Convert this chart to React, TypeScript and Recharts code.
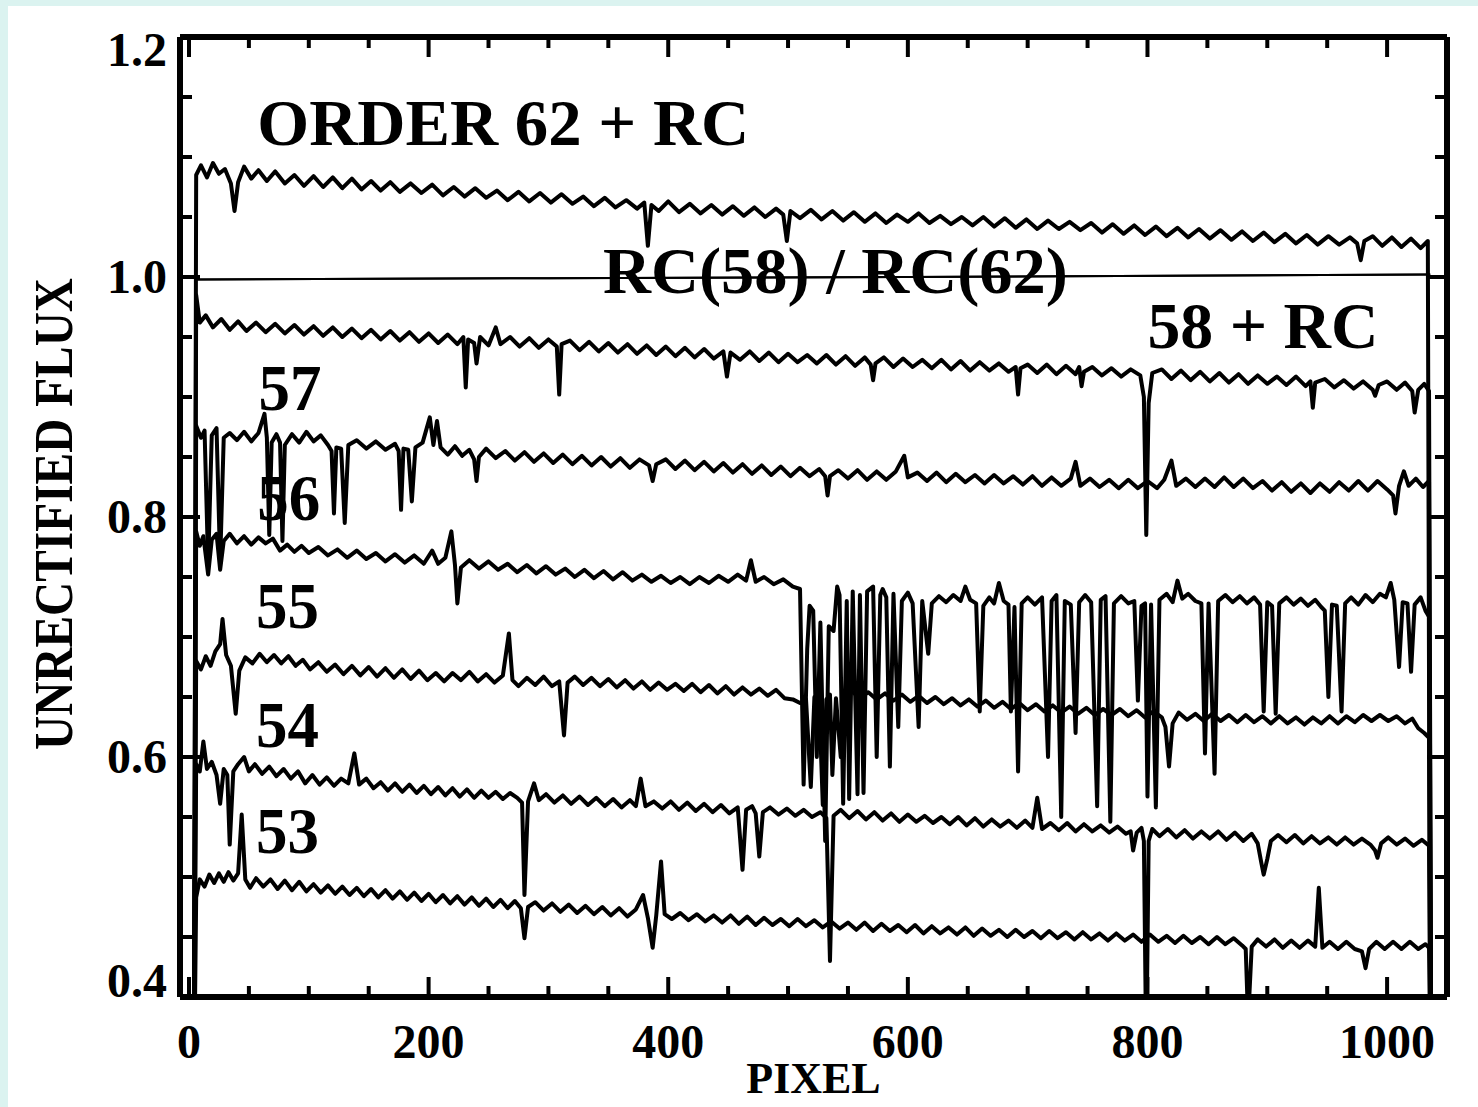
import { LineChart, Line, XAxis, YAxis, ReferenceDot } from 'recharts';

// each series: [pixel, flux] pairs
const order62 = [
  [4, 0.3], [6, 1.085], [10, 1.093], [15, 1.083], [20, 1.095], [25, 1.086], [30, 1.090], [35, 1.078], [38, 1.055], [41, 1.079],
  [46, 1.092], [52, 1.082], [58, 1.089], [65, 1.080], [72, 1.088], [80, 1.078], [88, 1.085], [96, 1.076], [104, 1.084], [112, 1.075],
  [120, 1.083], [128, 1.074], [136, 1.082], [144, 1.073], [152, 1.080], [160, 1.072], [168, 1.079], [176, 1.071], [185, 1.078], [194, 1.070],
  [203, 1.077], [212, 1.068], [221, 1.075], [230, 1.067], [239, 1.074], [248, 1.066], [257, 1.072], [266, 1.064], [275, 1.071], [284, 1.063],
  [293, 1.070], [302, 1.062], [311, 1.069], [320, 1.061], [329, 1.067], [338, 1.059], [347, 1.066], [356, 1.058], [365, 1.064], [374, 1.057],
  [380, 1.062], [383, 1.026], [386, 1.060], [392, 1.055], [400, 1.063], [409, 1.054], [418, 1.061], [427, 1.053], [436, 1.060], [445, 1.052],
  [454, 1.059], [463, 1.051], [472, 1.058], [481, 1.050], [490, 1.057], [496, 1.052], [499, 1.030], [502, 1.055], [510, 1.049], [519, 1.056],
  [528, 1.048], [537, 1.055], [546, 1.047], [555, 1.054], [564, 1.046], [573, 1.053], [582, 1.045], [591, 1.052], [600, 1.046], [609, 1.053],
  [618, 1.045], [627, 1.051], [636, 1.044], [645, 1.050], [654, 1.043], [663, 1.050], [672, 1.042], [681, 1.049], [690, 1.041], [699, 1.048],
  [708, 1.040], [717, 1.047], [726, 1.040], [735, 1.046], [744, 1.039], [753, 1.045], [762, 1.037], [771, 1.044], [780, 1.036], [789, 1.043],
  [798, 1.035], [807, 1.042], [816, 1.034], [825, 1.041], [834, 1.033], [843, 1.040], [852, 1.032], [861, 1.039], [870, 1.031], [879, 1.038],
  [888, 1.030], [897, 1.037], [906, 1.029], [915, 1.036], [924, 1.028], [933, 1.035], [942, 1.027], [951, 1.034], [960, 1.027], [969, 1.033],
  [975, 1.028], [978, 1.014], [981, 1.030], [988, 1.034], [996, 1.026], [1004, 1.033], [1012, 1.025], [1020, 1.032], [1028, 1.024], [1034, 1.030],
  [1036, 0.3],
];

const rcRatio = [[6, 0.998], [300, 0.999], [600, 1.0], [1036, 1.002]];

const order58 = [
  [4, 0.3], [6, 0.985], [9, 0.962], [14, 0.968], [20, 0.958], [27, 0.965], [34, 0.956], [41, 0.963], [48, 0.955], [56, 0.962],
  [64, 0.954], [72, 0.961], [80, 0.953], [88, 0.960], [96, 0.952], [104, 0.959], [112, 0.951], [120, 0.958], [128, 0.950], [136, 0.957],
  [144, 0.949], [152, 0.956], [160, 0.948], [168, 0.955], [176, 0.947], [184, 0.954], [192, 0.946], [200, 0.953], [208, 0.945], [216, 0.952],
  [224, 0.944], [229, 0.950], [231, 0.908], [233, 0.948], [238, 0.945], [240, 0.928], [243, 0.950], [250, 0.943], [256, 0.958], [260, 0.944],
  [268, 0.950], [276, 0.942], [284, 0.949], [292, 0.941], [300, 0.948], [307, 0.942], [309, 0.902], [311, 0.944], [318, 0.947], [326, 0.939],
  [334, 0.946], [342, 0.938], [350, 0.945], [358, 0.937], [366, 0.944], [374, 0.936], [382, 0.943], [390, 0.935], [398, 0.942], [406, 0.934],
  [414, 0.941], [422, 0.933], [430, 0.940], [438, 0.932], [446, 0.938], [449, 0.917], [452, 0.937], [460, 0.931], [468, 0.938], [476, 0.930],
  [484, 0.937], [492, 0.929], [500, 0.936], [508, 0.929], [516, 0.935], [524, 0.928], [532, 0.935], [540, 0.927], [548, 0.934], [556, 0.926],
  [564, 0.933], [569, 0.927], [571, 0.914], [573, 0.928], [580, 0.933], [588, 0.925], [596, 0.932], [604, 0.925], [612, 0.931], [620, 0.924],
  [628, 0.931], [636, 0.923], [644, 0.930], [652, 0.922], [660, 0.929], [668, 0.922], [676, 0.928], [684, 0.921], [690, 0.925], [692, 0.902],
  [694, 0.924], [700, 0.927], [708, 0.920], [716, 0.927], [724, 0.919], [732, 0.926], [740, 0.919], [743, 0.925], [745, 0.909], [747, 0.921],
  [754, 0.925], [762, 0.918], [770, 0.924], [778, 0.917], [786, 0.923], [794, 0.918], [797, 0.900], [799, 0.785], [801, 0.895], [804, 0.920],
  [812, 0.923], [820, 0.915], [828, 0.922], [836, 0.914], [844, 0.921], [852, 0.913], [860, 0.920], [868, 0.912], [876, 0.919], [884, 0.911],
  [892, 0.918], [900, 0.911], [908, 0.917], [916, 0.910], [924, 0.917], [932, 0.909], [936, 0.913], [938, 0.891], [940, 0.912], [948, 0.915],
  [956, 0.908], [964, 0.914], [972, 0.907], [980, 0.913], [988, 0.906], [990, 0.901], [993, 0.910], [1000, 0.913], [1008, 0.906], [1015, 0.912],
  [1021, 0.905], [1023, 0.887], [1026, 0.906], [1031, 0.911], [1035, 0.905], [1037, 0.3],
];

const order57 = [
  [4, 0.3], [6, 0.876], [10, 0.866], [13, 0.872], [16, 0.760], [19, 0.868], [23, 0.874], [26, 0.762], [29, 0.866], [34, 0.870],
  [40, 0.864], [46, 0.871], [52, 0.863], [58, 0.870], [63, 0.886], [65, 0.866], [67, 0.785], [69, 0.862], [73, 0.869], [76, 0.862],
  [78, 0.780], [80, 0.860], [86, 0.869], [92, 0.862], [98, 0.871], [104, 0.863], [110, 0.868], [116, 0.860], [119, 0.855], [121, 0.803],
  [123, 0.858], [127, 0.857], [130, 0.795], [133, 0.860], [140, 0.864], [148, 0.857], [156, 0.863], [164, 0.856], [172, 0.861], [175, 0.855],
  [177, 0.806], [179, 0.857], [183, 0.856], [186, 0.813], [189, 0.858], [195, 0.862], [201, 0.883], [204, 0.860], [207, 0.880], [210, 0.858],
  [216, 0.852], [222, 0.859], [228, 0.851], [234, 0.856], [238, 0.848], [240, 0.830], [242, 0.850], [248, 0.857], [256, 0.849], [264, 0.855],
  [272, 0.847], [280, 0.854], [288, 0.846], [296, 0.853], [304, 0.845], [312, 0.852], [320, 0.844], [328, 0.851], [336, 0.843], [344, 0.850],
  [352, 0.842], [360, 0.849], [368, 0.841], [376, 0.848], [384, 0.843], [387, 0.830], [390, 0.844], [398, 0.848], [406, 0.840], [414, 0.847],
  [422, 0.839], [430, 0.846], [438, 0.838], [446, 0.845], [454, 0.837], [462, 0.844], [470, 0.836], [478, 0.843], [486, 0.835], [494, 0.842],
  [502, 0.834], [510, 0.841], [518, 0.834], [526, 0.840], [531, 0.834], [533, 0.818], [535, 0.834], [542, 0.839], [550, 0.832], [558, 0.839],
  [566, 0.831], [574, 0.838], [582, 0.831], [590, 0.838], [597, 0.851], [600, 0.833], [608, 0.837], [616, 0.830], [624, 0.837], [632, 0.829],
  [640, 0.836], [648, 0.829], [656, 0.835], [664, 0.828], [672, 0.835], [680, 0.828], [688, 0.834], [696, 0.827], [704, 0.834], [712, 0.826],
  [720, 0.833], [728, 0.826], [736, 0.832], [740, 0.846], [744, 0.826], [752, 0.832], [760, 0.825], [768, 0.831], [776, 0.824], [784, 0.831],
  [792, 0.824], [800, 0.830], [808, 0.824], [814, 0.831], [820, 0.847], [824, 0.826], [832, 0.832], [840, 0.825], [848, 0.832], [856, 0.825],
  [864, 0.833], [872, 0.825], [880, 0.832], [888, 0.824], [896, 0.830], [904, 0.822], [912, 0.829], [920, 0.821], [928, 0.828], [936, 0.820],
  [944, 0.828], [952, 0.821], [960, 0.829], [968, 0.822], [976, 0.830], [984, 0.822], [992, 0.830], [1000, 0.823], [1005, 0.818], [1007, 0.803],
  [1010, 0.826], [1014, 0.838], [1018, 0.826], [1024, 0.832], [1030, 0.825], [1035, 0.830], [1037, 0.3],
];

const order56 = [
  [4, 0.3], [6, 0.788], [9, 0.776], [12, 0.784], [16, 0.752], [19, 0.781], [23, 0.786], [26, 0.756], [29, 0.780], [34, 0.786],
  [40, 0.778], [46, 0.784], [52, 0.777], [58, 0.783], [64, 0.778], [70, 0.782], [76, 0.772], [82, 0.777], [88, 0.771], [94, 0.776],
  [100, 0.770], [108, 0.775], [116, 0.768], [124, 0.773], [132, 0.766], [140, 0.772], [148, 0.765], [156, 0.770], [164, 0.763], [172, 0.769],
  [180, 0.762], [188, 0.768], [196, 0.761], [203, 0.772], [208, 0.761], [214, 0.766], [219, 0.788], [222, 0.760], [224, 0.728], [227, 0.758],
  [234, 0.764], [242, 0.757], [250, 0.763], [258, 0.756], [266, 0.761], [274, 0.754], [282, 0.760], [290, 0.753], [298, 0.759], [306, 0.752],
  [314, 0.757], [322, 0.750], [330, 0.756], [338, 0.749], [346, 0.755], [354, 0.748], [362, 0.754], [370, 0.747], [378, 0.752], [386, 0.746],
  [394, 0.751], [402, 0.745], [410, 0.750], [418, 0.744], [426, 0.750], [434, 0.745], [442, 0.751], [450, 0.746], [458, 0.752], [465, 0.747],
  [469, 0.764], [473, 0.746], [480, 0.750], [488, 0.744], [496, 0.748], [504, 0.742], [510, 0.740], [513, 0.577], [516, 0.690], [518, 0.726],
  [521, 0.722], [524, 0.600], [527, 0.712], [531, 0.530], [534, 0.709], [538, 0.705], [541, 0.742], [543, 0.735], [546, 0.561], [549, 0.730],
  [551, 0.565], [554, 0.738], [558, 0.569], [560, 0.735], [563, 0.570], [566, 0.738], [571, 0.742], [574, 0.600], [577, 0.735], [579, 0.740],
  [582, 0.733], [585, 0.592], [588, 0.736], [592, 0.625], [595, 0.730], [600, 0.737], [604, 0.728], [609, 0.625], [612, 0.730], [617, 0.686],
  [620, 0.728], [626, 0.734], [632, 0.729], [638, 0.735], [644, 0.730], [648, 0.742], [652, 0.731], [657, 0.728], [660, 0.638], [663, 0.726],
  [668, 0.733], [672, 0.728], [676, 0.745], [680, 0.730], [684, 0.727], [686, 0.638], [689, 0.725], [692, 0.588], [695, 0.728], [700, 0.733],
  [706, 0.727], [712, 0.733], [717, 0.600], [720, 0.730], [724, 0.735], [728, 0.550], [731, 0.730], [736, 0.727], [740, 0.620], [743, 0.729],
  [748, 0.735], [753, 0.729], [758, 0.559], [761, 0.731], [765, 0.734], [769, 0.546], [772, 0.728], [778, 0.734], [784, 0.728], [789, 0.730],
  [792, 0.647], [795, 0.726], [798, 0.728], [800, 0.567], [803, 0.727], [807, 0.558], [810, 0.731], [816, 0.736], [821, 0.729], [825, 0.747],
  [829, 0.732], [834, 0.736], [840, 0.730], [845, 0.728], [848, 0.603], [851, 0.728], [856, 0.586], [859, 0.730], [865, 0.735], [871, 0.729],
  [877, 0.734], [883, 0.728], [889, 0.733], [894, 0.727], [897, 0.638], [900, 0.729], [904, 0.726], [907, 0.636], [910, 0.728], [916, 0.733],
  [922, 0.727], [928, 0.732], [934, 0.726], [940, 0.731], [945, 0.725], [948, 0.722], [951, 0.650], [954, 0.727], [958, 0.726], [962, 0.638],
  [965, 0.728], [970, 0.733], [976, 0.727], [982, 0.735], [988, 0.729], [994, 0.736], [999, 0.733], [1003, 0.745], [1006, 0.731], [1010, 0.675],
  [1013, 0.729], [1017, 0.728], [1020, 0.671], [1023, 0.727], [1028, 0.733], [1032, 0.722], [1035, 0.717], [1037, 0.3],
];

const order55 = [
  [4, 0.3], [6, 0.680], [10, 0.673], [14, 0.684], [18, 0.676], [22, 0.688], [26, 0.694], [28, 0.715], [31, 0.685], [35, 0.676],
  [39, 0.636], [42, 0.672], [47, 0.683], [53, 0.678], [59, 0.686], [65, 0.679], [71, 0.685], [77, 0.678], [83, 0.684], [89, 0.676],
  [95, 0.681], [101, 0.673], [108, 0.679], [115, 0.671], [122, 0.677], [129, 0.669], [136, 0.676], [143, 0.668], [150, 0.675], [157, 0.667],
  [164, 0.674], [171, 0.666], [178, 0.673], [185, 0.665], [192, 0.672], [199, 0.664], [206, 0.670], [213, 0.663], [220, 0.670], [227, 0.664],
  [234, 0.671], [241, 0.663], [248, 0.669], [255, 0.662], [262, 0.668], [267, 0.703], [270, 0.664], [275, 0.659], [282, 0.666], [289, 0.660],
  [296, 0.667], [303, 0.659], [309, 0.663], [313, 0.618], [316, 0.662], [322, 0.667], [329, 0.660], [336, 0.666], [343, 0.659], [350, 0.665],
  [357, 0.658], [364, 0.664], [371, 0.657], [378, 0.663], [385, 0.656], [392, 0.662], [399, 0.656], [406, 0.661], [413, 0.655], [420, 0.661],
  [427, 0.654], [434, 0.660], [441, 0.653], [448, 0.659], [455, 0.652], [462, 0.658], [469, 0.652], [476, 0.657], [483, 0.651], [490, 0.656],
  [497, 0.649], [504, 0.648], [510, 0.645], [515, 0.648], [519, 0.575], [522, 0.650], [526, 0.647], [529, 0.560], [532, 0.648], [535, 0.652],
  [537, 0.585], [540, 0.649], [544, 0.600], [547, 0.650], [553, 0.655], [560, 0.649], [567, 0.654], [574, 0.648], [581, 0.653], [588, 0.647],
  [595, 0.652], [602, 0.646], [609, 0.651], [616, 0.645], [623, 0.650], [630, 0.644], [637, 0.649], [644, 0.643], [651, 0.648], [658, 0.642],
  [665, 0.647], [672, 0.641], [679, 0.646], [686, 0.640], [693, 0.645], [700, 0.639], [707, 0.644], [714, 0.638], [721, 0.643], [728, 0.637],
  [735, 0.642], [742, 0.636], [749, 0.641], [756, 0.635], [763, 0.640], [770, 0.635], [777, 0.640], [784, 0.634], [791, 0.639], [798, 0.633],
  [805, 0.638], [812, 0.633], [815, 0.625], [818, 0.592], [821, 0.628], [826, 0.637], [833, 0.631], [840, 0.636], [847, 0.630], [854, 0.636],
  [861, 0.630], [868, 0.635], [875, 0.629], [882, 0.635], [889, 0.629], [896, 0.634], [903, 0.628], [910, 0.634], [917, 0.628], [924, 0.633],
  [931, 0.627], [938, 0.633], [945, 0.628], [952, 0.634], [959, 0.628], [966, 0.634], [973, 0.629], [980, 0.635], [987, 0.630], [994, 0.635],
  [1001, 0.630], [1008, 0.634], [1015, 0.628], [1021, 0.632], [1026, 0.624], [1031, 0.620], [1035, 0.616], [1037, 0.3],
];

const order54 = [
  [4, 0.3], [6, 0.594], [9, 0.588], [12, 0.613], [15, 0.590], [19, 0.596], [23, 0.585], [26, 0.561], [29, 0.590], [32, 0.585],
  [34, 0.527], [37, 0.588], [41, 0.594], [46, 0.600], [50, 0.588], [55, 0.594], [61, 0.586], [67, 0.592], [73, 0.584], [79, 0.590],
  [85, 0.582], [91, 0.588], [97, 0.578], [103, 0.585], [109, 0.577], [115, 0.583], [121, 0.576], [127, 0.582], [133, 0.578], [138, 0.603],
  [142, 0.577], [148, 0.582], [154, 0.574], [160, 0.579], [166, 0.572], [172, 0.578], [178, 0.571], [184, 0.577], [190, 0.570], [196, 0.576],
  [202, 0.569], [208, 0.575], [214, 0.568], [220, 0.574], [226, 0.567], [232, 0.573], [238, 0.566], [244, 0.572], [250, 0.566], [256, 0.571],
  [262, 0.565], [268, 0.570], [274, 0.566], [278, 0.562], [280, 0.485], [283, 0.563], [288, 0.578], [292, 0.564], [298, 0.569], [305, 0.562],
  [312, 0.568], [319, 0.561], [326, 0.567], [333, 0.560], [340, 0.566], [347, 0.559], [354, 0.565], [361, 0.558], [368, 0.564], [373, 0.559],
  [377, 0.582], [381, 0.559], [388, 0.563], [395, 0.557], [402, 0.563], [409, 0.556], [416, 0.562], [423, 0.555], [430, 0.561], [437, 0.554],
  [444, 0.560], [451, 0.553], [458, 0.558], [462, 0.506], [465, 0.556], [470, 0.559], [473, 0.553], [476, 0.517], [479, 0.554], [485, 0.558],
  [492, 0.552], [499, 0.557], [506, 0.551], [513, 0.556], [520, 0.550], [527, 0.554], [532, 0.549], [535, 0.430], [538, 0.551], [544, 0.556],
  [551, 0.549], [558, 0.555], [565, 0.548], [572, 0.554], [579, 0.547], [586, 0.553], [593, 0.546], [600, 0.552], [607, 0.546], [614, 0.551],
  [621, 0.545], [628, 0.550], [635, 0.544], [642, 0.550], [649, 0.543], [656, 0.549], [663, 0.542], [670, 0.548], [677, 0.542], [684, 0.547],
  [691, 0.541], [698, 0.547], [704, 0.541], [708, 0.566], [712, 0.540], [719, 0.545], [726, 0.539], [733, 0.545], [740, 0.538], [747, 0.544],
  [754, 0.538], [761, 0.543], [768, 0.537], [775, 0.542], [782, 0.536], [786, 0.538], [788, 0.522], [791, 0.537], [795, 0.541], [797, 0.530],
  [799, 0.350], [801, 0.530], [804, 0.540], [810, 0.534], [817, 0.540], [824, 0.533], [831, 0.539], [838, 0.532], [845, 0.538], [852, 0.532],
  [859, 0.538], [866, 0.531], [873, 0.537], [880, 0.530], [887, 0.536], [892, 0.528], [895, 0.512], [897, 0.502], [900, 0.515], [903, 0.530],
  [909, 0.535], [916, 0.529], [923, 0.535], [930, 0.528], [937, 0.534], [944, 0.528], [951, 0.533], [958, 0.527], [965, 0.533], [972, 0.527],
  [979, 0.532], [986, 0.527], [990, 0.522], [992, 0.516], [995, 0.528], [1001, 0.533], [1008, 0.527], [1015, 0.532], [1022, 0.526], [1029, 0.531],
  [1035, 0.526], [1037, 0.3],
];

const order53 = [
  [4, 0.3], [6, 0.483], [9, 0.498], [13, 0.492], [17, 0.502], [21, 0.495], [25, 0.503], [29, 0.496], [33, 0.504], [37, 0.497],
  [41, 0.503], [44, 0.552], [47, 0.498], [51, 0.491], [56, 0.499], [62, 0.492], [68, 0.498], [74, 0.490], [80, 0.497], [86, 0.489],
  [92, 0.496], [98, 0.488], [104, 0.494], [110, 0.487], [116, 0.493], [122, 0.486], [128, 0.492], [134, 0.485], [140, 0.491], [146, 0.484],
  [152, 0.490], [158, 0.483], [164, 0.489], [170, 0.482], [176, 0.488], [182, 0.481], [188, 0.487], [194, 0.480], [200, 0.486], [206, 0.479],
  [212, 0.485], [218, 0.478], [224, 0.484], [230, 0.477], [236, 0.483], [242, 0.476], [248, 0.482], [254, 0.475], [260, 0.481], [266, 0.474],
  [272, 0.480], [277, 0.474], [280, 0.449], [283, 0.475], [289, 0.479], [296, 0.472], [303, 0.478], [310, 0.471], [317, 0.477], [324, 0.470],
  [331, 0.476], [338, 0.469], [345, 0.475], [352, 0.468], [359, 0.474], [366, 0.467], [373, 0.473], [379, 0.485], [383, 0.466], [387, 0.441],
  [390, 0.468], [394, 0.513], [397, 0.469], [403, 0.465], [410, 0.470], [417, 0.464], [424, 0.469], [431, 0.463], [438, 0.468], [445, 0.462],
  [452, 0.468], [459, 0.461], [466, 0.467], [473, 0.460], [480, 0.466], [487, 0.460], [494, 0.465], [501, 0.459], [508, 0.465], [515, 0.459],
  [522, 0.464], [529, 0.458], [536, 0.463], [543, 0.457], [550, 0.462], [557, 0.456], [564, 0.462], [571, 0.455], [578, 0.461], [585, 0.455],
  [592, 0.460], [599, 0.454], [606, 0.460], [613, 0.453], [620, 0.459], [627, 0.453], [634, 0.458], [641, 0.452], [648, 0.458], [655, 0.451],
  [662, 0.457], [669, 0.451], [676, 0.456], [683, 0.450], [690, 0.456], [697, 0.450], [704, 0.455], [711, 0.449], [718, 0.455], [725, 0.449],
  [732, 0.454], [739, 0.448], [746, 0.454], [753, 0.448], [760, 0.453], [767, 0.447], [774, 0.453], [781, 0.447], [788, 0.452], [795, 0.446],
  [802, 0.452], [809, 0.446], [816, 0.451], [823, 0.445], [830, 0.451], [837, 0.445], [844, 0.450], [851, 0.444], [858, 0.450], [865, 0.444],
  [872, 0.449], [879, 0.443], [882, 0.440], [884, 0.380], [887, 0.442], [892, 0.448], [899, 0.442], [906, 0.448], [913, 0.441], [920, 0.447],
  [927, 0.441], [934, 0.447], [940, 0.442], [943, 0.491], [946, 0.441], [952, 0.446], [959, 0.440], [966, 0.446], [973, 0.440], [979, 0.438],
  [982, 0.424], [985, 0.440], [991, 0.446], [998, 0.440], [1005, 0.446], [1012, 0.440], [1019, 0.446], [1026, 0.440], [1032, 0.444], [1035, 0.441],
  [1037, 0.3],
];

const xTicks = [0, 50, 100, 150, 200, 250, 300, 350, 400, 450, 500, 550, 600, 650, 700, 750, 800, 850, 900, 950, 1000];
const yTicks = [0.4, 0.45, 0.5, 0.55, 0.6, 0.65, 0.7, 0.75, 0.8, 0.85, 0.9, 0.95, 1.0, 1.05, 1.1, 1.15, 1.2];

// text labels: [text, pixel, flux, width]
const notes: [string, number, number, number][] = [
  ['ORDER 62 + RC', 57, 1.11, 492],
  ['RC(58) / RC(62)', 345.5, 0.987, 465],
  ['58 + RC', 800, 0.941, 231],
  ['57', 58, 0.889, 63],
  ['56', 57, 0.7975, 63],
  ['55', 56, 0.7075, 63],
  ['54', 56, 0.608, 63],
  ['53', 56, 0.52, 63],
];

const FONT = '"Liberation Serif", "Times New Roman", serif';
const pts = (arr: number[][]) => arr.map(([x, y]) => ({ x, y }));
const isMajorX = (v: number) => v % 200 === 0;
const isMajorY = (v: number) => Math.abs(v * 5 - Math.round(v * 5)) < 1e-6;

const BottomTick = (p: any) => {
  const v = p.payload.value;
  const major = isMajorX(v);
  return (
    <g>
      <line x1={p.x} x2={p.x} y1={p.y} y2={p.y - (major ? 20 : 11)} stroke="#000" strokeWidth={4} />
      {major && (
        <text x={p.x} y={p.y + 61} textAnchor="middle" fontFamily={FONT} fontWeight="bold" fontSize={48} fill="#000">
          {v}
        </text>
      )}
    </g>
  );
};

const TopTick = (p: any) => {
  const major = isMajorX(p.payload.value);
  return <line x1={p.x} x2={p.x} y1={p.y} y2={p.y + (major ? 20 : 11)} stroke="#000" strokeWidth={4} />;
};

const LeftTick = (p: any) => {
  const v = p.payload.value;
  const major = isMajorY(v);
  let dy = 16;
  if (v > 1.19) dy = 29;
  if (v < 0.41) dy = 0;
  return (
    <g>
      <line x1={p.x} x2={p.x + (major ? 20 : 12)} y1={p.y} y2={p.y} stroke="#000" strokeWidth={4} />
      {major && (
        <text x={p.x - 13} y={p.y + dy} textAnchor="end" fontFamily={FONT} fontWeight="bold" fontSize={48} fill="#000">
          {v.toFixed(1)}
        </text>
      )}
    </g>
  );
};

const RightTick = (p: any) => {
  const major = isMajorY(p.payload.value);
  return <line x1={p.x} x2={p.x - (major ? 20 : 12)} y1={p.y} y2={p.y} stroke="#000" strokeWidth={4} />;
};

const YTitle = (p: any) => {
  const vb = p.viewBox;
  const x = vb.x + vb.width - 108;
  const y = vb.y + vb.height / 2 - 3;
  return (
    <text x={x} y={y} transform={`rotate(-90, ${x}, ${y})`} textAnchor="middle" fontFamily={FONT} fontWeight="bold"
      fontSize={54} textLength={472} lengthAdjust="spacingAndGlyphs" fill="#000">
      UNRECTIFIED FLUX
    </text>
  );
};

const XTitle = (p: any) => {
  const vb = p.viewBox;
  return (
    <text x={vb.x + vb.width / 2} y={vb.y + 96} textAnchor="middle" fontFamily={FONT} fontWeight="bold" fontSize={44} fill="#000">
      PIXEL
    </text>
  );
};

const series = [order62, order58, order57, order56, order55, order54, order53];

export default function App() {
  return (
    <div style={{ position: 'fixed', left: 0, top: 0, width: 1478, height: 1107, background: '#dbf3f0', overflow: 'hidden' }}>
      <div style={{ position: 'absolute', left: 8, top: 6, right: 0, bottom: 0, background: '#fff' }} />
      <div style={{ position: 'absolute', left: 0, top: 0 }}>
        <LineChart width={1478} height={1107} margin={{ top: 36, right: 30, bottom: 109, left: 179 }}>
          <XAxis
            xAxisId={0}
            dataKey="x"
            type="number"
            domain={[-7.5, 1050]}
            allowDataOverflow
            ticks={xTicks}
            interval={0}
            height={1}
            tickSize={0}
            tickMargin={0}
            tickLine={false}
            axisLine={{ stroke: '#000', strokeWidth: 6 }}
            tick={<BottomTick />}
            label={<XTitle />}
          />
          <XAxis
            xAxisId="top"
            orientation="top"
            dataKey="x"
            type="number"
            domain={[-7.5, 1050]}
            allowDataOverflow
            ticks={xTicks}
            interval={0}
            height={1}
            tickSize={0}
            tickMargin={0}
            tickLine={false}
            axisLine={{ stroke: '#000', strokeWidth: 6 }}
            tick={<TopTick />}
          />
          <YAxis
            yAxisId={0}
            type="number"
            domain={[0.4, 1.2]}
            allowDataOverflow
            ticks={yTicks}
            interval={0}
            width={1}
            tickSize={0}
            tickMargin={0}
            tickLine={false}
            axisLine={{ stroke: '#000', strokeWidth: 6 }}
            tick={<LeftTick />}
            label={<YTitle />}
          />
          <YAxis
            yAxisId="right"
            orientation="right"
            type="number"
            domain={[0.4, 1.2]}
            allowDataOverflow
            ticks={yTicks}
            interval={0}
            width={1}
            tickSize={0}
            tickMargin={0}
            tickLine={false}
            axisLine={{ stroke: '#000', strokeWidth: 6 }}
            tick={<RightTick />}
          />
          <Line
            data={pts(rcRatio)}
            dataKey="y"
            type="linear"
            stroke="#000"
            strokeWidth={2}
            dot={false}
            activeDot={false}
            isAnimationActive={false}
          />
          <Line
            xAxisId="top"
            yAxisId="right"
            data={pts(rcRatio)}
            dataKey="y"
            type="linear"
            stroke="#000"
            strokeWidth={2}
            dot={false}
            activeDot={false}
            isAnimationActive={false}
          />
          {series.map((s, i) => (
            <Line
              key={i}
              data={pts(s)}
              dataKey="y"
              type="linear"
              stroke="#000"
              strokeWidth={4}
              strokeLinejoin="round"
              dot={false}
              activeDot={false}
              isAnimationActive={false}
            />
          ))}
          {notes.map(([t, x, y, w]) => (
            <ReferenceDot
              key={t}
              x={x}
              y={y}
              r={0}
              shape={(p: any) => (
                <text x={p.cx} y={p.cy} fontFamily={FONT} fontWeight="bold" fontSize={66} textLength={w}
                  lengthAdjust="spacingAndGlyphs" fill="#000">
                  {t}
                </text>
              )}
            />
          ))}
        </LineChart>
      </div>
    </div>
  );
}
